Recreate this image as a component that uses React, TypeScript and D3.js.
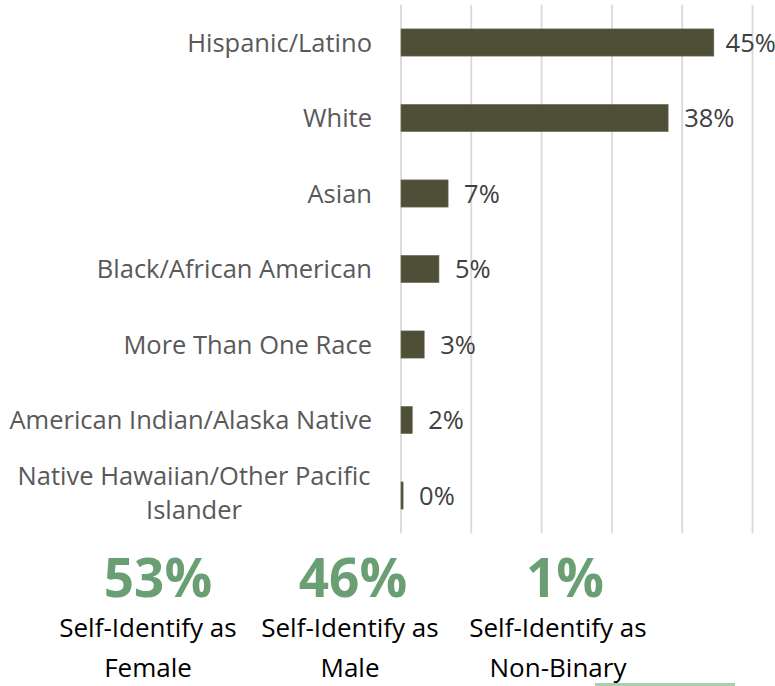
import React from "react";
import * as d3 from "d3";

const categories: string[][] = [
  ["Hispanic/Latino"],
  ["White"],
  ["Asian"],
  ["Black/African American"],
  ["More Than One Race"],
  ["American Indian/Alaska Native"],
  ["Native Hawaiian/Other Pacific", "Islander"],
];
const values: number[] = [44.5, 38, 6.7, 5.4, 3.3, 1.6, 0.3];
const gridTicks: number[] = [0, 10, 20, 30, 40, 50];

const genderValues: string[] = ["53%", "46%", "1%"];
const genderLine1: string[] = ["Self-Identify as", "Self-Identify as", "Self-Identify as"];
const genderLine2: string[] = ["Female", "Male", "Non-Binary"];

const W = 775;
const H = 686;
const FONT = "'Open Sans', 'Noto Sans', sans-serif";

export default function App() {
  const keys = categories.map((c) => c.join(" "));
  const x = d3.scaleLinear().domain([0, 50]).range([401, 752.5]);
  const y = d3
    .scaleBand<string>()
    .domain(keys)
    .range([4.75, 533.25])
    .paddingInner(0.64)
    .paddingOuter(0.32);

  const catSize = 25.5;
  const labelSize = 25.5;
  const chartRight = 773;
  const colCenters = [148, 350, 558];
  const bigCenters = [158, 353, 565];

  return (
    <svg
      width={W}
      height={H}
      style={{ position: "absolute", left: 0, top: 0, background: "#fff" }}
    >
      {gridTicks.map((t) => (
        <line
          key={t}
          x1={x(t)}
          x2={x(t)}
          y1={y.range()[0]}
          y2={y.range()[1]}
          stroke="#d9d9d9"
          strokeWidth={1.8}
        />
      ))}
      {keys.map((k, i) => {
        const yc = (y(k) as number) + y.bandwidth() / 2;
        const xEnd = x(values[i]);
        const label = `${Math.round(values[i])}%`;
        const estW = label.length * labelSize * 0.62;
        const lx = Math.min(xEnd + 16, chartRight - estW);
        const lines = categories[i];
        return (
          <g key={k}>
            <rect
              x={x(0)}
              y={y(k)}
              width={Math.max(0, xEnd - x(0))}
              height={y.bandwidth()}
              fill="#4f4f38"
              stroke="#6b6b55"
              strokeWidth={0.6}
            />
            <text
              x={lx}
              y={yc + labelSize * 0.36}
              fontFamily={FONT}
              fontSize={labelSize}
              fill="#404040"
            >
              {label}
            </text>
            {lines.length === 1 ? (
              <text
                x={372}
                y={yc + catSize * 0.36}
                textAnchor="end"
                fontFamily={FONT}
                fontSize={catSize}
                fill="#595959"
              >
                {lines[0]}
              </text>
            ) : (
              <text
                x={194}
                textAnchor="middle"
                fontFamily={FONT}
                fontSize={catSize}
                fill="#595959"
              >
                {lines.map((ln, j) => (
                  <tspan key={j} x={194} y={yc - 17 + 6 + j * 34}>
                    {ln}
                  </tspan>
                ))}
              </text>
            )}
          </g>
        );
      })}
      {genderValues.map((v, i) => (
        <g key={v}>
          <text
            x={bigCenters[i]}
            y={597}
            textAnchor="middle"
            fontFamily={FONT}
            fontWeight={700}
            fontSize={53}
            fill="#6a9f74"
          >
            {v}
          </text>
          <text
            x={colCenters[i]}
            y={637}
            textAnchor="middle"
            fontFamily={FONT}
            fontSize={26}
            fill="#000"
          >
            {genderLine1[i]}
          </text>
          <text
            x={colCenters[i]}
            y={677}
            textAnchor="middle"
            fontFamily={FONT}
            fontSize={26}
            fill="#000"
          >
            {genderLine2[i]}
          </text>
        </g>
      ))}
      <rect x={595} y={683} width={140} height={3} fill="#a9cfae" />
    </svg>
  );
}
